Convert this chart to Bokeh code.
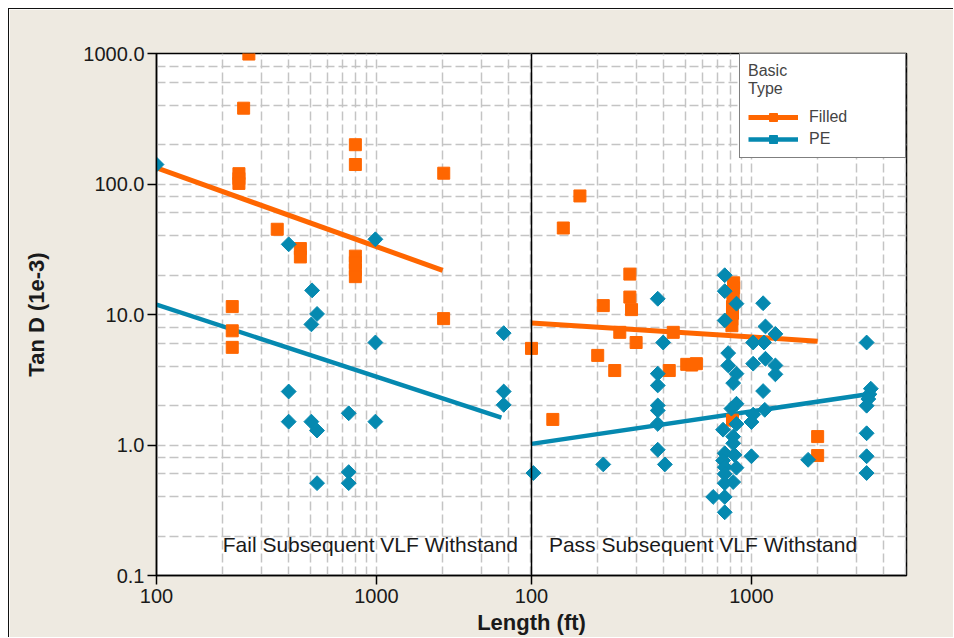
import math
from bokeh.plotting import figure
from bokeh.models import (Range1d, LogScale, FixedTicker, Grid, Span, Label,
                          Legend, LegendItem, PrintfTickFormatter)
from bokeh.embed import file_html
from bokeh.resources import INLINE

# ---------------- data ----------------
# Panel "Fail Subsequent VLF Withstand"
fail_filled_x = [263, 249, 237, 237, 237, 802, 802, 2023, 354, 451, 451,
                 802, 802, 802, 802, 221, 221, 221, 2020]
fail_filled_y = [990, 381, 120, 110, 101, 200, 141, 121, 45, 32, 27.6,
                 28, 25, 22, 19.5, 11.5, 7.5, 5.6, 9.3]
fail_pe_x = [100, 399, 989, 510, 537, 506, 989, 3790, 3790, 3790, 399, 399,
             506, 537, 748, 989, 748, 748, 537]
fail_pe_y = [141, 34.5, 37.7, 15.3, 10.1, 8.4, 6.1, 7.2, 2.57, 2.03, 2.57, 1.51,
             1.51, 1.29, 1.75, 1.51, 0.62, 0.51, 0.51]
fail_filled_fit_x = [100, 2000]
fail_filled_fit_y = [133, 21.8]
fail_pe_fit_x = [100, 3700]
fail_pe_fit_y = [11.9, 1.62]

# Panel "Pass Subsequent VLF Withstand"
pass_filled_x = [166, 139.5, 280, 280, 212, 285, 252, 299, 441, 100, 200, 239,
                 423, 508, 535, 562, 125, 2000, 2000,
                 830, 830, 825, 825, 820, 820, 815, 815, 820]
pass_filled_y = [81, 46, 20.4, 13.6, 11.7, 10.9, 7.3, 6.1, 7.3, 5.5, 4.86, 3.72,
                 3.72, 4.15, 4.1, 4.2, 1.57, 1.16, 0.83,
                 17.5, 16, 14.5, 13, 11.5, 10.2, 9.2, 8.2, 1.55]
pass_pe_x = [102, 212, 375, 397, 375, 375, 375, 375, 375, 375, 404,
             756, 756, 855, 1130, 756, 1158, 1285, 1018, 1140, 784, 1018, 1158,
             1285, 784, 1285, 855, 826, 1130, 855, 811, 1150, 1018, 1000, 855,
             743, 826, 826, 756, 837, 1000, 743, 756, 855, 756, 826, 756, 670,
             756, 756,
             1810, 3340, 3490, 3440, 3400, 3340, 3340, 3340, 3340]
pass_pe_y = [0.61, 0.71, 13.2, 6.1, 3.52, 2.86, 2.01, 1.84, 1.45, 0.92, 0.71,
             20, 15.1, 12.1, 12.2, 9.0, 8.1, 7.1, 6.1, 6.1, 5.06, 4.2, 4.58,
             4.07, 4.07, 3.48, 3.52, 2.98, 2.59, 2.07, 1.90, 1.86, 1.71, 1.5, 1.45,
             1.31, 1.16, 1.03, 0.865, 0.84, 0.82, 0.76, 0.676, 0.67, 0.60, 0.52, 0.51,
             0.40, 0.40, 0.305,
             0.77, 6.1, 2.7, 2.45, 2.25, 2.0, 1.23, 0.82, 0.61]
pass_filled_fit_x = [100, 2000]
pass_filled_fit_y = [8.6, 6.25]
pass_pe_fit_x = [100, 3500]
pass_pe_fit_y = [1.02, 2.47]

panel_labels = ["Fail Subsequent VLF Withstand", "Pass Subsequent VLF Withstand"]
group_labels = ["Filled", "PE"]

x_major = [100, 1000]
x_minor = [200, 300, 400, 500, 600, 700, 800, 900, 2000, 3000, 4000, 5000]
y_major = [0.1, 1, 10, 100, 1000]
y_grid = [0.1, 0.2, 0.4, 0.6, 0.8, 1, 2, 4, 6, 8, 10, 20, 40, 60, 80,
          100, 200, 400, 600, 800, 1000]

X_LO, X_HI = 100, 5070      # each panel's x extent (ft)
Y_LO, Y_HI = 0.1, 1000

ORANGE = "#FF6600"
BLUE = "#0589B0"
FONT = "Liberation Sans"
TXT = "#1a1a1a"

# ---------------- figure ----------------
p = figure(width=945, height=629, x_axis_type="log", y_axis_type="log",
           x_range=Range1d(X_LO, X_HI * X_HI / X_LO), y_range=Range1d(Y_LO, Y_HI),
           output_backend="svg", toolbar_location=None,
           min_border_left=147, min_border_right=48, min_border_top=44,
           min_border_bottom=63,
           background_fill_color="white", border_fill_color="#EEEAE1")
p.styles = {"margin-left": "8px", "margin-top": "8px",
            "border-top": "1px solid #111", "border-left": "1px solid #111"}
p.extra_x_ranges = {"pass": Range1d(X_LO * X_LO / X_HI, X_HI)}
p.extra_x_scales = {"pass": LogScale()}

p.outline_line_color = "black"
p.outline_line_width = 1.5

# x axis: ticks for both panels
right_ticks = [int(t * X_HI / X_LO) for t in x_major]
p.xaxis.ticker = FixedTicker(ticks=x_major + right_ticks, minor_ticks=[])
overrides = {t: str(t) for t in x_major}
overrides.update({rt: str(t) for rt, t in zip(right_ticks, x_major)})
p.xaxis.major_label_overrides = overrides
p.yaxis.ticker = FixedTicker(ticks=y_major, minor_ticks=[])
p.yaxis.formatter = PrintfTickFormatter(format="%.1f")

for ax in (p.xaxis[0], p.yaxis[0]):
    ax.axis_line_color = "black"
    ax.axis_line_width = 1.5
    ax.major_tick_line_color = "black"
    ax.major_tick_line_width = 1.5
    ax.major_tick_out = 9
    ax.major_tick_in = 0
    ax.minor_tick_line_color = None
    ax.major_label_text_font = FONT
    ax.major_label_text_font_size = "20px"
    ax.major_label_text_color = TXT
    ax.axis_label_text_font = FONT
    ax.axis_label_text_font_style = "bold"
    ax.axis_label_text_font_size = "22px"
    ax.axis_label_text_color = TXT

p.xaxis.axis_label = "Length (ft)"
p.xaxis.major_label_standoff = 4
p.xaxis.axis_label_standoff = 4
p.yaxis.axis_label = "Tan D (1e-3)"
p.yaxis.major_label_standoff = 3
p.yaxis.axis_label_standoff = 31

# grids
GRID_KW = dict(grid_line_color="#c4c4c4", grid_line_width=1.5, grid_line_dash="9 4")
p.xgrid.ticker = FixedTicker(ticks=x_major + x_minor)
p.ygrid.ticker = FixedTicker(ticks=y_grid)
for g in (p.xgrid[0], p.ygrid[0]):
    for k, v in GRID_KW.items():
        setattr(g, k, v)
p.add_layout(Grid(dimension=0, x_range_name="pass",
                  ticker=FixedTicker(ticks=x_major + x_minor), **GRID_KW))

# panel separator
p.add_layout(Span(location=X_LO, dimension="height", x_range_name="pass",
                  line_color="black", line_width=1.5))

# ---------------- glyphs ----------------
bl1 = p.line(fail_pe_fit_x, fail_pe_fit_y, line_color=BLUE, line_width=4.5)
bl2 = p.line(pass_pe_fit_x, pass_pe_fit_y, line_color=BLUE, line_width=4.5,
             x_range_name="pass")
ol1 = p.line(fail_filled_fit_x, fail_filled_fit_y, line_color=ORANGE, line_width=5)
ol2 = p.line(pass_filled_fit_x, pass_filled_fit_y, line_color=ORANGE, line_width=5,
             x_range_name="pass")
os1 = p.scatter(fail_filled_x, fail_filled_y, marker="square", size=12,
                color=ORANGE)
os2 = p.scatter(pass_filled_x, pass_filled_y, marker="square", size=12,
                color=ORANGE, x_range_name="pass")
bs1 = p.scatter(fail_pe_x, fail_pe_y, marker="square", size=10.5,
                angle=math.pi / 4, color=BLUE)
bs2 = p.scatter(pass_pe_x, pass_pe_y, marker="square", size=10.5,
                angle=math.pi / 4, color=BLUE, x_range_name="pass")

# panel labels
p.add_layout(Label(x=200, y=0.142, text=panel_labels[0], text_font=FONT,
                   text_font_size="21px", text_color=TXT))
p.add_layout(Label(x=120, y=0.142, text=panel_labels[1], text_font=FONT,
                   text_font_size="21px", text_color=TXT,
                   x_range_name="pass"))

# legend
legend = Legend(items=[LegendItem(label=group_labels[0], renderers=[ol1, os1]),
                       LegendItem(label=group_labels[1], renderers=[bl1, bs1])],
                location="top_right", title="Basic\nType",
                margin=0, padding=8, spacing=2,
                glyph_width=50, glyph_height=20, label_height=20,
                label_standoff=11, label_width=88,
                border_line_color="black", border_line_width=1.5,
                background_fill_color="white", background_fill_alpha=1,
                label_text_font=FONT, label_text_font_size="16px",
                title_text_font=FONT, title_text_font_size="16px",
                title_text_font_style="normal",
                title_text_line_height=1.35, title_standoff=9)
p.add_layout(legend)

open("out.html", "w").write(file_html(p, INLINE))
